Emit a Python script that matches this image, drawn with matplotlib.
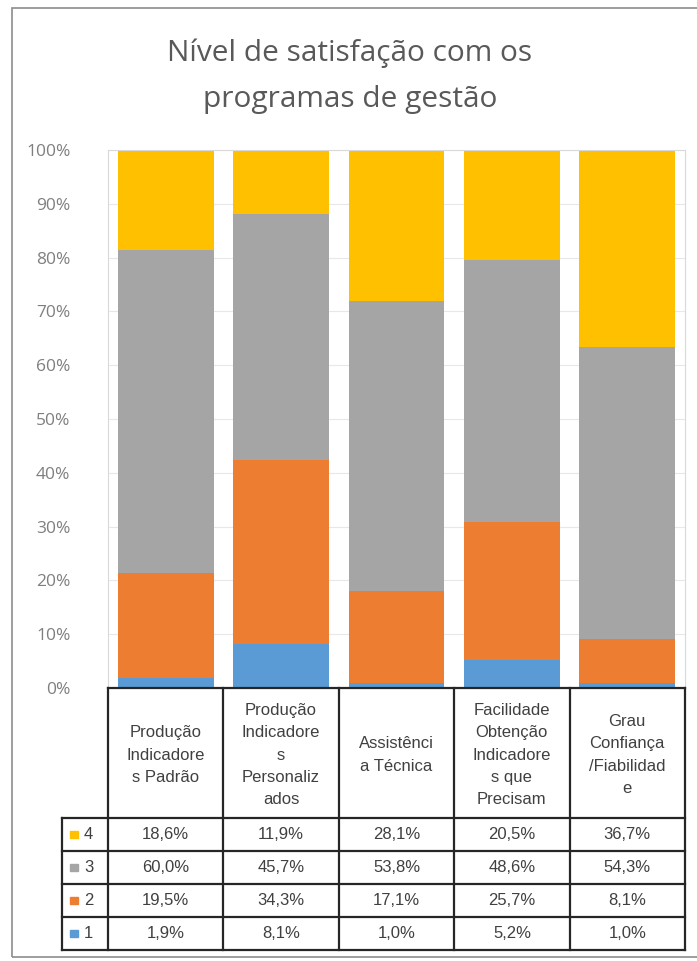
import numpy as np
import matplotlib.pyplot as plt
from matplotlib.patches import Rectangle
from matplotlib.ticker import FuncFormatter

# satisfaction levels per management program (percent)
categories = ['Produção\nIndicadore\ns Padrão',
              'Produção\nIndicadore\ns\nPersonaliz\nados',
              'Assistênci\na Técnica',
              'Facilidade\nObtenção\nIndicadore\ns que\nPrecisam',
              'Grau\nConfiança\n/Fiabilidad\ne']
level_1 = [1.9, 8.1, 1.0, 5.2, 1.0]
level_2 = [19.5, 34.3, 17.1, 25.7, 8.1]
level_3 = [60.0, 45.7, 53.8, 48.6, 54.3]
level_4 = [18.6, 11.9, 28.1, 20.5, 36.7]
levels = ['1', '2', '3', '4']
colors = ['#5B9BD5', '#ED7D31', '#A5A5A5', '#FFC000']
series = [level_1, level_2, level_3, level_4]

W, H = 697, 961
fig = plt.figure(figsize=(W / 100, H / 100), dpi=100)

# chart frame
fig.patches.append(Rectangle((12 / W, 1 - 957 / H), 1.0, (957 - 8) / H,
                             transform=fig.transFigure, fill=False,
                             edgecolor='#8c8c8c', linewidth=1.2))

fig.text(350 / W, 1 - 76 / H, 'Nível de satisfação com os\nprogramas de gestão',
         ha='center', va='center', fontsize=21.5, color='#595959',
         family='Open Sans', linespacing=1.75)

left, right = 108, 685
top, zero = 150, 688
ax = fig.add_axes([left / W, 1 - zero / H, (right - left) / W, (zero - top) / H])

x = np.arange(len(categories))
bottom = np.zeros(len(categories))
for vals, c in zip(series, colors):
    ax.bar(x, vals, 0.83, bottom=bottom, color=c, zorder=2)
    bottom += np.array(vals)

ax.set_xlim(-0.5, len(categories) - 0.5)
ax.set_ylim(0, 100)
ax.set_yticks(np.arange(0, 101, 10))
ax.yaxis.set_major_formatter(FuncFormatter(lambda v, p: f'{v:.0f}%'))
ax.set_xticks([])
ax.tick_params(axis='y', length=0, pad=27, labelsize=12.5, labelcolor='#7f7f7f')
for lab in ax.get_yticklabels():
    lab.set_family('Open Sans')
ax.grid(axis='y', color='#e8e8e8', linewidth=0.8, zorder=0)
for s in ax.spines.values():
    s.set_color('#d9d9d9')
    s.set_linewidth(0.8)

# data table under the bars
tb_top, tb_bot = 688, 950
tax = fig.add_axes([left / W, 1 - tb_bot / H, (right - left) / W, (tb_bot - tb_top) / H])
tax.set_xlim(-0.5, len(categories) - 0.5)
tax.set_ylim(tb_bot - tb_top, 0)
tax.axis('off')

head_h = 130
row_h = (tb_bot - tb_top - head_h) / len(levels)
col_w = (right - left) / len(categories)
leg_x = -0.5 - (left - 62) / col_w
lc = '#262626'
lw = 1.6
kw = dict(color=lc, linewidth=lw, clip_on=False, solid_capstyle='projecting')

tax.plot([-0.5, 4.5], [0, 0], **kw)
for i in range(len(categories) + 1):
    tax.plot([i - 0.5, i - 0.5], [0, tb_bot - tb_top], **kw)
tax.plot([leg_x, leg_x], [head_h, tb_bot - tb_top], **kw)
for r in range(len(levels) + 1):
    y = head_h + r * row_h
    tax.plot([leg_x, 4.5], [y, y], **kw)

txt = dict(ha='center', va='center', fontsize=12, color='#404040',
           family='Liberation Sans', clip_on=False)
for i, cat in enumerate(categories):
    tax.text(i, head_h / 2 + 2, cat, linespacing=1.62, **txt)

# rows listed top-down: 4, 3, 2, 1
for r, k in enumerate(range(len(levels) - 1, -1, -1)):
    yc = head_h + (r + 0.5) * row_h
    for i, v in enumerate(series[k]):
        tax.text(i, yc, f'{v:.1f}%'.replace('.', ','), **txt)
    tax.add_patch(Rectangle((leg_x + 0.07, yc - 3.5), 0.065, 7,
                            color=colors[k], clip_on=False))
    tax.text(leg_x + 0.23, yc, levels[k], ha='center', va='center',
             fontsize=12, color='#404040', family='Liberation Sans',
             clip_on=False)

fig.savefig('out.png', dpi=100)
